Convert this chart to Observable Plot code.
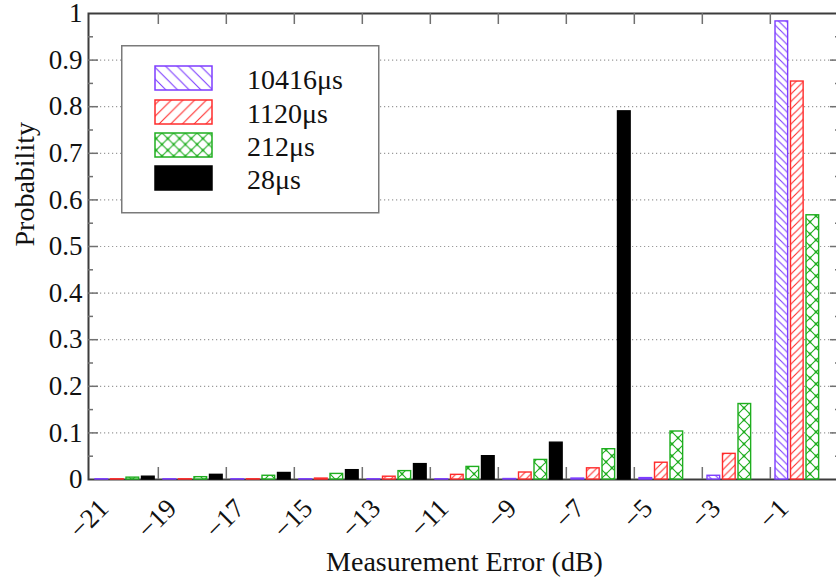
<!DOCTYPE html>
<html><head><meta charset="utf-8">
<script src="https://cdn.jsdelivr.net/npm/d3@7"></script>
<script src="https://cdn.jsdelivr.net/npm/@observablehq/plot@0.6"></script>
<style>
html,body{margin:0;padding:0;background:#fff;overflow:hidden;}
#wrap{position:relative;width:842px;height:579px;overflow:hidden;}
#wrap svg text{font-family:"Liberation Serif","Times New Roman",serif !important;}
#legend{position:absolute;left:121px;top:45px;}
#defs{position:absolute;left:0;top:0;width:0;height:0;}
</style></head><body>
<div id="defs"></div>
<div id="wrap"></div>
<script>
// ---- data ----
const categories = ["\u221221","\u221219","\u221217","\u221215","\u221213","\u221211","\u22129","\u22127","\u22125","\u22123","\u22121"];
const seriesNames = ["10416\u03bcs","1120\u03bcs","212\u03bcs","28\u03bcs"];
const p10416 = [0.0005,0.0005,0.0005,0.0005,0.0005,0.0005,0.001,0.002,0.003,0.008,0.983];
const p1120  = [0.0005,0.0005,0.0005,0.002,0.006,0.010,0.015,0.024,0.036,0.055,0.854];
const p212   = [0.004,0.005,0.008,0.012,0.018,0.027,0.042,0.065,0.103,0.162,0.567];
const p28    = [0.006,0.010,0.014,0.020,0.033,0.050,0.079,0.790,0,0,0];
const yTicks = [0,0.1,0.2,0.3,0.4,0.5,0.6,0.7,0.8,0.9,1];
const yTickLabels = ["0","0.1","0.2","0.3","0.4","0.5","0.6","0.7","0.8","0.9","1"];
const yMinorTicks = [0.05,0.15,0.25,0.35,0.45,0.55,0.65,0.75,0.85,0.95];
const xLabel = "Measurement Error (dB)";
const yLabel = "Probability";

// ---- styles ----
const FONT = "Liberation Serif";
const seriesColors = ["#7d3dff","#ff2b2b","#1fae1f","#000000"];
const seriesFills = ["url(#barBack)","url(#barFwd)","url(#barCross)","#000000"];
const legendFills = ["url(#lgBack)","url(#lgFwd)","url(#lgCross)","#000000"];

// ---- layout ----
const W = 842, H = 579, ML = 88, MR = 2, MT = 13, MB = 100;
const plotW = W - ML - MR, plotH = H - MT - MB;
const groupW = plotW / categories.length;
const barOffset = 5, barStep = 15.5, barWidth = 13;

function patterns(prefix, s, cs, sw) {
  const [c0, c1, c2] = seriesColors;
  const back = `M0,0L${s},${s}M-1,${s-1}L1,${s+1}M${s-1},-1L${s+1},1`;
  const fwd = `M0,${s}L${s},0M-1,1L1,-1M${s-1},${s+1}L${s+1},${s-1}`;
  const cb = `M0,0L${cs},${cs}M-1,${cs-1}L1,${cs+1}M${cs-1},-1L${cs+1},1`;
  const cf = `M0,${cs}L${cs},0M-1,1L1,-1M${cs-1},${cs+1}L${cs+1},${cs-1}`;
  const dots = [[0,0],[cs,0],[0,cs],[cs,cs],[cs/2,cs/2]].map(([x,y]) => `<circle cx="${x}" cy="${y}" r="1.4" fill="${c2}"/>`).join("");
  return `
  <pattern id="${prefix}Back" patternUnits="userSpaceOnUse" width="${s}" height="${s}"><rect width="${s}" height="${s}" fill="#fff"/><path d="${back}" stroke="${c0}" stroke-width="${sw}" fill="none"/></pattern>
  <pattern id="${prefix}Fwd" patternUnits="userSpaceOnUse" width="${s}" height="${s}"><rect width="${s}" height="${s}" fill="#fff"/><path d="${fwd}" stroke="${c1}" stroke-width="${sw}" fill="none"/></pattern>
  <pattern id="${prefix}Cross" patternUnits="userSpaceOnUse" width="${cs}" height="${cs}"><rect width="${cs}" height="${cs}" fill="#fff"/><path d="${cb}${cf}" stroke="${c2}" stroke-width="${sw}" fill="none"/>${dots}</pattern>`;
}
document.getElementById("defs").innerHTML =
  `<svg width="0" height="0"><defs>${patterns("bar", 7.5, 12, 1.1)}${patterns("lg", 11.7, 11.7, 1.1)}</defs></svg>`;

const seriesValues = [p10416, p1120, p212, p28];
const rows = [];
seriesNames.forEach((s, k) => categories.forEach((c, i) => rows.push({series: s, k, cat: c, value: seriesValues[k][i]})));

const tickColor = "#707070";
const chart = Plot.plot({
  width: W, height: H,
  marginLeft: ML, marginRight: MR, marginTop: MT, marginBottom: MB,
  style: {fontFamily: FONT, fontSize: "27px", color: "#111", background: "#fff", overflow: "visible"},
  x: {domain: categories, padding: 0},
  y: {domain: [0, 1]},
  marks: [
    Plot.ruleY(yTicks.filter(t => t > 0 && t < 1), {y: d => d, stroke: "#9a9a9a", strokeWidth: 1.2, strokeDasharray: "1.2,2.8"}),
    Plot.frame({stroke: "#3c3c3c", strokeWidth: 2}),
    ...seriesNames.map((s, k) => Plot.barY(rows.filter(d => d.k === k), {
      x: "cat", y: "value",
      fill: seriesFills[k], stroke: seriesColors[k], strokeWidth: 1.4,
      insetLeft: barOffset + k * barStep,
      insetRight: groupW - (barOffset + k * barStep) - barWidth
    })),
    // inward ticks
    Plot.ruleY(yTicks.filter(t => t > 0 && t < 1), {y: d => d, stroke: tickColor, strokeWidth: 1.5, insetRight: plotW - 10}),
    Plot.ruleY(yMinorTicks, {y: d => d, stroke: tickColor, strokeWidth: 1.5, insetRight: plotW - 5}),
    Plot.ruleY(yTicks.filter(t => t > 0 && t < 1), {y: d => d, stroke: tickColor, strokeWidth: 1.5, insetLeft: plotW - 10}),
    Plot.ruleY(yMinorTicks, {y: d => d, stroke: tickColor, strokeWidth: 1.5, insetLeft: plotW - 5}),
    Plot.ruleX(categories.slice(1), {x: d => d, dx: -groupW / 2, stroke: tickColor, strokeWidth: 1.5, insetBottom: plotH - 11}),
    Plot.ruleX(categories.slice(1), {x: d => d, dx: -groupW / 2, stroke: tickColor, strokeWidth: 1.5, insetTop: plotH - 12}),
    // axes
    Plot.axisY({ticks: yTicks, tickSize: 0, tickPadding: 6, tickFormat: d => yTickLabels[yTicks.indexOf(d)], label: null, fontSize: 27, fontFamily: FONT, fontVariant: "normal"}),
    Plot.axisX({tickSize: 0, tickRotate: -45, textAnchor: "end", lineAnchor: "top", tickPadding: 17, dx: -28, label: null, fontSize: 27, fontFamily: FONT, fontVariant: "normal"}),
    Plot.text([yLabel], {text: d => d, frameAnchor: "left", rotate: -90, dx: -63, fontSize: 28, fontFamily: FONT}),
    Plot.text([xLabel], {text: d => d, frameAnchor: "bottom", dy: 91, lineAnchor: "bottom", fontSize: 28, fontFamily: FONT})
  ]
});
const wrap = document.getElementById("wrap");
wrap.appendChild(chart);

// legend (inside plot area, top-left)
const swY = [21, 55, 88, 121];
let lg = `<svg width="260" height="170">
<rect x="0.75" y="0.75" width="257" height="167" fill="#fff" stroke="#7a7a7a" stroke-width="1.5"/>`;
seriesNames.forEach((s, k) => {
  lg += `<rect x="34" y="${swY[k]}" width="57" height="24" fill="${legendFills[k]}" stroke="${seriesColors[k]}" stroke-width="1.5"/>`;
  lg += `<text x="126" y="${swY[k] + 23}" font-size="28" font-family="${FONT}" fill="#111">${s}</text>`;
});
lg += `</svg>`;
const legend = document.createElement("div");
legend.id = "legend";
legend.innerHTML = lg;
wrap.appendChild(legend);
</script>
</body></html>
